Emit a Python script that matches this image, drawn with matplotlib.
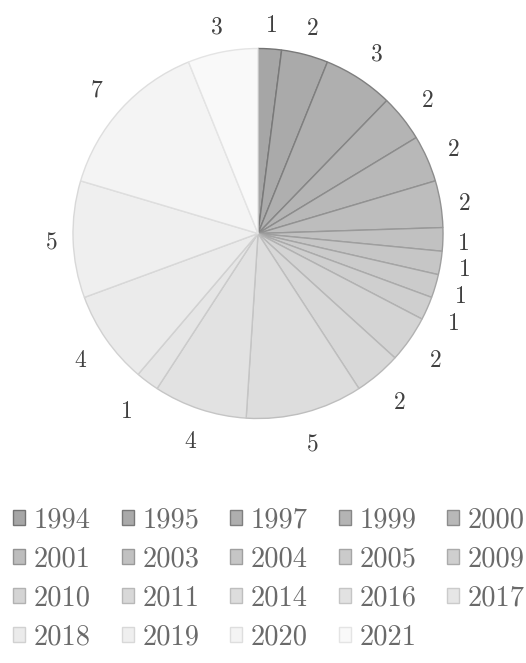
import numpy as np
import matplotlib
matplotlib.use("Agg")
import matplotlib.pyplot as plt
from matplotlib.patches import Rectangle

plt.rcParams['font.family'] = ['cmr10', 'DejaVu Serif']
plt.rcParams['axes.unicode_minus'] = False

years = ['1994', '1995', '1997', '1999', '2000', '2001', '2003', '2004', '2005', '2009',
         '2010', '2011', '2014', '2016', '2017', '2018', '2019', '2020', '2021']
counts = [1, 2, 3, 2, 2, 2, 1, 1, 1, 1, 2, 2, 5, 4, 1, 4, 5, 7, 3]

# grey ramp, dark -> light
n = len(years)
shades = np.linspace(0.65, 0.975, n)
fills = [(s, s, s) for s in shades]
edges = [tuple(max(c - 0.2 + 0.12 * i / (n - 1), 0) for c in f) for i, f in enumerate(fills)]

R_PX = 185.0
fig = plt.figure(figsize=(5.26, 6.63), dpi=100)
ax = fig.add_axes([(258 - R_PX) / 526, (663 - 233.5 - R_PX) / 663, 2 * R_PX / 526, 2 * R_PX / 663])

wedges, _ = ax.pie(counts, colors=fills, startangle=90, counterclock=False,
                   wedgeprops=dict(linewidth=1.0))
for w, e in zip(wedges, edges):
    w.set_edgecolor(e)

# excel-like "outside end" labels: pushed out further on the diagonals
gap = -3.5 / R_PX
half_w, half_h = 23.5 / R_PX, 28.5 / R_PX
cap_half = 7.6 / R_PX   # half digit height, so we can sit text on its baseline
drop = 2 / R_PX
for w, c in zip(wedges, counts):
    ang = np.deg2rad((w.theta1 + w.theta2) / 2)
    ux, uy = np.cos(ang), np.sin(ang)
    r = 1 + gap + half_w * abs(ux) + half_h * abs(uy)
    ax.text(r * ux, r * uy - cap_half - drop, str(c), ha='center', va='baseline',
            fontsize=17, color='#404040')

ax.set_xlim(-1, 1)
ax.set_ylim(-1, 1)
ax.axis('off')

# legend fills column-wise; reorder so it reads row-wise like the original
ncol, nrow = 5, 4
order = [i * ncol + j for j in range(ncol) for i in range(nrow) if i * ncol + j < n]
handles = [Rectangle((0, 0), 1, 1, facecolor=fills[k], edgecolor=edges[k], linewidth=1.0) for k in order]
labels = [years[k] for k in order]
leg = fig.legend(handles, labels, loc='upper left', bbox_to_anchor=(13 / 526, 1 - 507 / 663),
                 ncol=ncol, frameon=False, fontsize=20.5, handlelength=0.43, handleheight=0.43,
                 handletextpad=0.3, columnspacing=1.08, labelspacing=0.45,
                 borderpad=0, borderaxespad=0)
for t in leg.get_texts():
    t.set_color('#6a6a6a')

fig.savefig('out.png', dpi=100)
